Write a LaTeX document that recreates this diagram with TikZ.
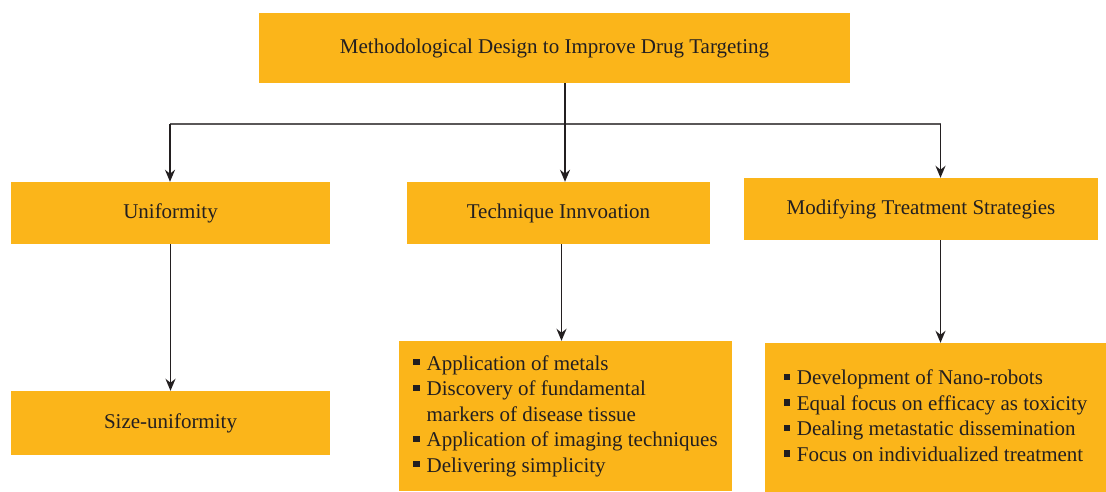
\documentclass[tikz,border=0pt]{standalone}
\usepackage{fontspec}
\setmainfont{Liberation Serif}
\usetikzlibrary{arrows.meta}
\usetikzlibrary{positioning}
\definecolor{boxyellow}{RGB}{251,181,26}
\definecolor{inkdark}{RGB}{35,31,32}
\newcommand{\sqbul}{\rule[0.22em]{0.3em}{0.3em}}

\begin{document}
\begin{tikzpicture}[x=1pt,y=-1pt,
    box/.style={fill=boxyellow, text=inkdark, inner sep=0pt, font=\fontsize{21}{25.5}\selectfont},
    link/.style={draw=inkdark, line width=1.7pt, -{Stealth[length=12pt,width=10pt]}},
    rail/.style={draw=inkdark!75, line width=1.7pt}]
  \useasboundingbox (0,0) rectangle (1106,491);
  % top level
  \node[box, minimum width=591, minimum height=70] (goal) at (554.5,48) {Methodological Design to Improve Drug Targeting};
  % second level
  \node[box, minimum width=319, minimum height=62] (unif) at (170.5,213) {Uniformity};
  \node[box, minimum width=303, minimum height=62] (tech) at (558.5,213) {Technique Innvoation};
  \node[box, minimum width=354, minimum height=62] (modi) at (921,209) {Modifying Treatment Strategies};
  % third level
  \node[box, minimum width=319, minimum height=64] (size) at (170.5,423) {Size-uniformity};
  \node[box, minimum width=333, minimum height=150] (techlist) at (565.5,416)
    {\begin{tabular}{@{}l@{\hspace{7pt}}l@{}}
      \sqbul & Application of metals\\
      \sqbul & Discovery of fundamental\\
             & markers of disease tissue\\
      \sqbul & Application of imaging techniques\\
      \sqbul & Delivering simplicity
     \end{tabular}};
  \node[box, minimum width=341, minimum height=150] (modilist) at (935.5,418)
    {\begin{tabular}{@{}l@{\hspace{7pt}}l@{}}
      \sqbul & Development of Nano-robots\\
      \sqbul & Equal focus on efficacy as toxicity\\
      \sqbul & Dealing metastatic dissemination\\
      \sqbul & Focus on individualized treatment
     \end{tabular}};
  % connectors
  \coordinate (hub) at (565,124);
  \coordinate (hubl) at (170,124);
  \coordinate (hubr) at (940.5,124);
  \draw[rail] (hubl) -- (hubr);
  \draw[link] (goal.south -| hub) -- (tech.north -| hub);
  \draw[link] (hubl) -- (unif.north -| hubl);
  \draw[link] (hubr) -- (modi.north -| hubr);
  \draw[link] (unif) -- (size);
  \draw[link] (tech.south -| 561.5,0) -- (techlist.north -| 561.5,0);
  \draw[link] (modi.south -| hubr) -- (modilist.north -| hubr);
\end{tikzpicture}
\end{document}
